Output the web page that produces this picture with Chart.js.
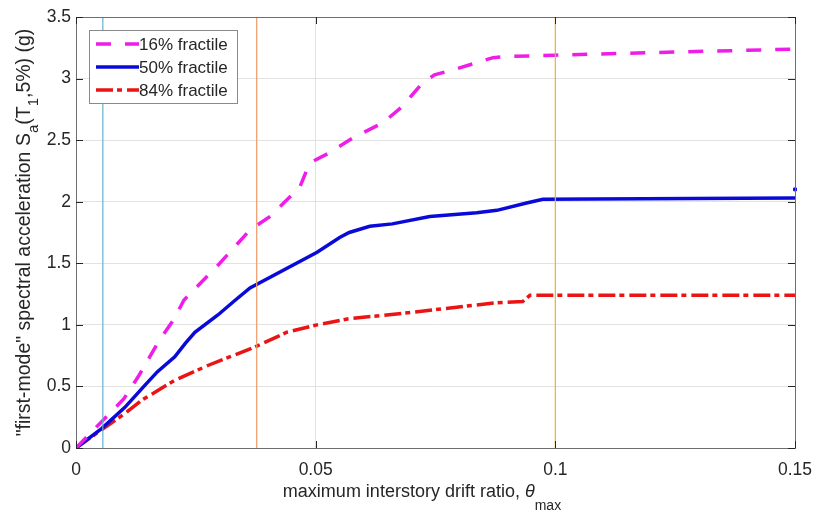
<!DOCTYPE html>
<html>
<head>
<meta charset="utf-8">
<title>Fractile IDA curves</title>
<script src="https://cdn.jsdelivr.net/npm/chart.js@4/dist/chart.umd.min.js"></script>
<style>
  body { margin: 0; background: #fff; }
  #wrap { width: 816px; height: 520px; position: relative; }
</style>
</head>
<body>
<div id="wrap"><canvas id="idaChart"></canvas></div>
<script>
// fractile curves: drift ratio (x) vs Sa(T1,5%) in g (y)
const frac16X = [0, 0.005, 0.01, 0.013, 0.017, 0.0205, 0.0225, 0.03, 0.0363, 0.0405, 0.0467, 0.0484, 0.0495, 0.053, 0.0578, 0.064, 0.068, 0.0724, 0.0748, 0.0795, 0.087, 0.0905, 0.1, 0.15];
const frac16Y = [0, 0.2, 0.4, 0.58, 0.85, 1.05, 1.2, 1.5, 1.77, 1.88, 2.12, 2.28, 2.33, 2.4, 2.52, 2.64, 2.77, 2.97, 3.03, 3.08, 3.17, 3.18, 3.19, 3.24];

const frac50X = [0, 0.0054, 0.0102, 0.0144, 0.017, 0.0206, 0.0228, 0.0248, 0.0296, 0.0332, 0.0363, 0.0503, 0.055, 0.057, 0.0613, 0.066, 0.0738, 0.0836, 0.0878, 0.094, 0.0974, 0.15];
const frac50Y = [0, 0.16, 0.33, 0.51, 0.62, 0.74, 0.85, 0.94, 1.08, 1.2, 1.3, 1.59, 1.71, 1.75, 1.8, 1.82, 1.88, 1.91, 1.93, 1.99, 2.02, 2.03];

const frac84X = [0, 0.0054, 0.0102, 0.0138, 0.0206, 0.0275, 0.0373, 0.044, 0.0503, 0.057, 0.0697, 0.0878, 0.0932, 0.0947, 0.15];
const frac84Y = [0, 0.15, 0.28, 0.39, 0.55, 0.67, 0.82, 0.94, 1.0, 1.05, 1.1, 1.18, 1.19, 1.24, 1.24];

// stray end point of the median curve
const medianEndX = [0.15];
const medianEndY = [2.1];

// vertical reference lines
const limitX = [0.0056, 0.0377, 0.1];
const limitColors = ['#62b2d0', '#ee9a66', '#e2b92e'];

const xTicks = [0, 0.05, 0.1, 0.15];
const yTicks = [0, 0.5, 1, 1.5, 2, 2.5, 3, 3.5];

const FONT = '"Liberation Sans", Arial, Helvetica, sans-serif';
const TXT = '#262626';

function pts(xs, ys) {
  return xs.map((x, i) => ({ x: x, y: ys[i] }));
}

const datasets = [];

limitX.forEach((x, i) => {
  datasets.push({
    label: 'limit' + i,
    data: [{ x: x, y: 0 }, { x: x, y: 3.5 }],
    borderColor: limitColors[i],
    borderWidth: 1.2,
    pointRadius: 0,
    showLine: true,
    inLegend: false
  });
});

datasets.push({
  label: '16% fractile',
  data: pts(frac16X, frac16Y),
  borderColor: '#ee1ee8',
  borderWidth: 3.5,
  borderDash: [15, 14],
  pointRadius: 0,
  showLine: true,
  inLegend: true
});
datasets.push({
  label: '50% fractile',
  data: pts(frac50X, frac50Y),
  borderColor: '#0a0ad8',
  borderWidth: 3.5,
  pointRadius: 0,
  showLine: true,
  inLegend: true
});
datasets.push({
  label: '84% fractile',
  data: pts(frac84X, frac84Y),
  borderColor: '#ea1414',
  borderWidth: 3.5,
  borderDash: [17, 4, 5, 5],
  pointRadius: 0,
  showLine: true,
  inLegend: true
});
datasets.push({
  label: 'end',
  data: pts(medianEndX, medianEndY),
  borderColor: '#0a0ad8',
  backgroundColor: '#0a0ad8',
  pointStyle: 'rect',
  pointRadius: 2,
  showLine: false,
  clip: false,
  inLegend: false
});

// text runs with subscripts / italics, centred horizontally, baseline at y = 0
function drawRich(ctx, runs, size, drop) {
  const subSize = Math.round(size * 0.75);
  const fontFor = r => (r.italic ? 'italic ' : '') + (r.sub ? subSize : size) + 'px ' + FONT;
  let total = 0;
  runs.forEach(r => { ctx.font = fontFor(r); total += ctx.measureText(r.t).width; });
  let x = -total / 2;
  ctx.textBaseline = 'alphabetic';
  ctx.textAlign = 'left';
  runs.forEach(r => {
    ctx.font = fontFor(r);
    ctx.fillText(r.t, x, r.sub ? drop : 0);
    x += ctx.measureText(r.t).width;
  });
}

const framePlugin = {
  id: 'frame',
  afterDatasetsDraw(chart) {
    const { ctx, chartArea: a, scales } = chart;
    ctx.save();
    ctx.strokeStyle = '#6e6e6e';
    ctx.lineWidth = 1;
    ctx.strokeRect(a.left + 0.5, a.top + 0.5, a.right - a.left, a.bottom - a.top);
    // inward ticks on all four sides
    ctx.strokeStyle = '#262626';
    ctx.beginPath();
    xTicks.forEach(v => {
      const px = Math.round(scales.x.getPixelForValue(v)) + 0.5;
      ctx.moveTo(px, a.bottom); ctx.lineTo(px, a.bottom - 7);
      ctx.moveTo(px, a.top); ctx.lineTo(px, a.top + 7);
    });
    yTicks.forEach(v => {
      const py = Math.round(scales.y.getPixelForValue(v)) + 0.5;
      ctx.moveTo(a.left, py); ctx.lineTo(a.left + 7, py);
      ctx.moveTo(a.right, py); ctx.lineTo(a.right - 7, py);
    });
    ctx.stroke();

    // axis titles
    ctx.fillStyle = TXT;
    ctx.save();
    ctx.translate(422, 497);
    drawRich(ctx, [
      { t: 'maximum interstory drift ratio, ' },
      { t: 'θ', italic: true },
      { t: 'max', sub: true }
    ], 18, 13);
    ctx.restore();

    ctx.save();
    ctx.translate(30, (a.top + a.bottom) / 2);
    ctx.rotate(-Math.PI / 2);
    drawRich(ctx, [
      { t: '"first-mode" spectral acceleration S' },
      { t: 'a', sub: true },
      { t: '(T' },
      { t: '1', sub: true },
      { t: ',5%) (g)' }
    ], 19.5, 8);
    ctx.restore();

    // legend box inside the axes
    const items = chart.data.datasets.filter(d => d.inLegend);
    const bx = 89, by = 30, bw = 148, bh = 73;
    ctx.fillStyle = '#fff';
    ctx.fillRect(bx, by, bw, bh);
    ctx.strokeStyle = '#8a8a8a';
    ctx.strokeRect(bx + 0.5, by + 0.5, bw, bh);
    items.forEach((d, i) => {
      const y = by + 14 + i * 23;
      ctx.beginPath();
      ctx.strokeStyle = d.borderColor;
      ctx.lineWidth = d.borderWidth;
      ctx.setLineDash(d.borderDash || []);
      ctx.moveTo(bx + 7, y);
      ctx.lineTo(bx + 50, y);
      ctx.stroke();
      ctx.setLineDash([]);
      ctx.fillStyle = TXT;
      ctx.font = '17px ' + FONT;
      ctx.textBaseline = 'middle';
      ctx.textAlign = 'left';
      ctx.fillText(d.label, bx + 50, y + 1);
    });
    ctx.restore();
  }
};

new Chart(document.getElementById('idaChart'), {
  type: 'scatter',
  data: { datasets: datasets },
  options: {
    responsive: true,
    maintainAspectRatio: false,
    animation: false,
    layout: { padding: { top: 17, right: 21, left: 0, bottom: 0 } },
    plugins: {
      legend: { display: false },
      tooltip: { enabled: false }
    },
    scales: {
      x: {
        type: 'linear',
        min: 0,
        max: 0.15,
        afterFit: s => { s.height = 72; s.paddingLeft = 0; s.paddingRight = 0; },
        afterBuildTicks: s => { s.ticks = xTicks.map(v => ({ value: v })); },
        grid: { color: '#e2e2e2', drawTicks: false },
        border: { display: false },
        ticks: { color: TXT, font: { family: FONT, size: 17.5 }, padding: 12, callback: v => String(v) }
      },
      y: {
        type: 'linear',
        min: 0,
        max: 3.5,
        afterFit: s => { s.width = 76; s.paddingTop = 0; s.paddingBottom = 0; },
        afterBuildTicks: s => { s.ticks = yTicks.map(v => ({ value: v })); },
        grid: { color: '#e2e2e2', drawTicks: false },
        border: { display: false },
        ticks: { color: TXT, font: { family: FONT, size: 17.5 }, padding: 5, callback: v => String(v) }
      }
    }
  },
  plugins: [framePlugin]
});
</script>
</body>
</html>
